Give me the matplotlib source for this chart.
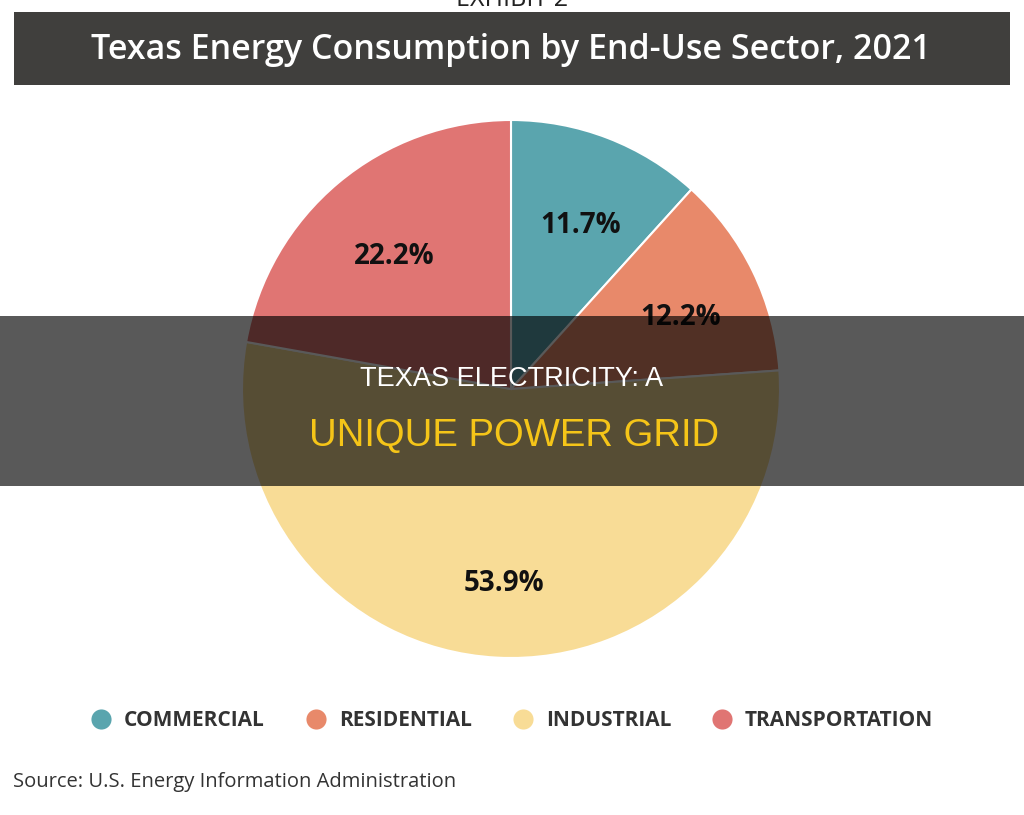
import matplotlib
matplotlib.use('Agg')
import matplotlib.pyplot as plt
from matplotlib.patches import Rectangle
from matplotlib.lines import Line2D

# data (share of total, %), drawn clockwise from 12 o'clock
sectors = ['COMMERCIAL', 'RESIDENTIAL', 'INDUSTRIAL', 'TRANSPORTATION']
shares = [11.7, 12.2, 53.9, 22.2]
colors = ['#5aa5ae', '#e8896a', '#f8dc96', '#e07573']

title = 'Texas Energy Consumption by End-Use Sector, 2021'
source = 'Source: U.S. Energy Information Administration'
banner_top = 'TEXAS ELECTRICITY: A'
banner_bottom = 'UNIQUE POWER GRID'

W, H = 1024, 815
def fx(x):
	return x / W
def fy(y):
	return 1 - y / H

fig = plt.figure(figsize=(W / 100, H / 100), dpi=100)
fig.patch.set_facecolor('white')

# pie, centre (511,389) radius 269 px
cx, cy, r = 511, 389, 269
ax = fig.add_axes([fx(cx - r), fy(cy + r), 2 * r / W, 2 * r / H])
wedges, texts, autotexts = ax.pie(shares, colors=colors, startangle=90, counterclock=False,
	autopct='%.1f%%', pctdistance=0.69,
	wedgeprops=dict(edgecolor='white', linewidth=1.5),
	textprops=dict(fontfamily='Open Sans', fontweight='bold', fontsize=20, color='#111111'))
# labels sit a little lower than the default anchor
for t in autotexts:
	x, y = t.get_position()
	t.set_position((x + 0.01, y - 0.035))
ax.set_xlim(-1, 1)
ax.set_ylim(-1, 1)
ax.set_aspect('equal')
ax.axis('off')

# exhibit label cut off at the top
fig.text(0.5, fy(6), 'EXHIBIT 2', ha='center', va='baseline', fontfamily='Open Sans',
	fontsize=18, color='#222222')

# title bar
fig.add_artist(Rectangle((fx(14), fy(85)), fx(1010) - fx(14), fy(12) - fy(85),
	transform=fig.transFigure, facecolor='#403f3d', edgecolor='none', zorder=1))
fig.text(fx(511), fy(50), title, ha='center', va='center', fontfamily='Open Sans',
	fontweight='semibold', fontsize=24.5, color='white', zorder=2)

# legend
handles = [Line2D([], [], marker='o', linestyle='none', markersize=14.5,
	markerfacecolor=c, markeredgecolor='none') for c in colors]
leg = fig.legend(handles, sectors, loc='center', bbox_to_anchor=(fx(512), fy(721)),
	ncol=4, frameon=False, handlelength=1.0, handletextpad=0.6, columnspacing=1.95,
	prop=dict(family='Open Sans', weight='bold', size=15))
for t in leg.get_texts():
	t.set_color('#333333')

fig.text(fx(13), fy(782), source, ha='left', va='center', fontfamily='Open Sans',
	fontsize=14.5, color='#333333')

# dark overlay band with headline
fig.add_artist(Rectangle((0, fy(486)), 1, fy(316) - fy(486), transform=fig.transFigure,
	facecolor='black', alpha=0.65, edgecolor='none', zorder=5))
fig.text(fx(512), fy(379), banner_top, ha='center', va='center', fontfamily='Liberation Sans',
	fontsize=19.5, color='white', zorder=6)
fig.text(fx(514), fy(436), banner_bottom, ha='center', va='center', fontfamily='Liberation Sans',
	fontsize=27.5, color='#f5c518', zorder=6)

fig.savefig('out.png', dpi=100)
